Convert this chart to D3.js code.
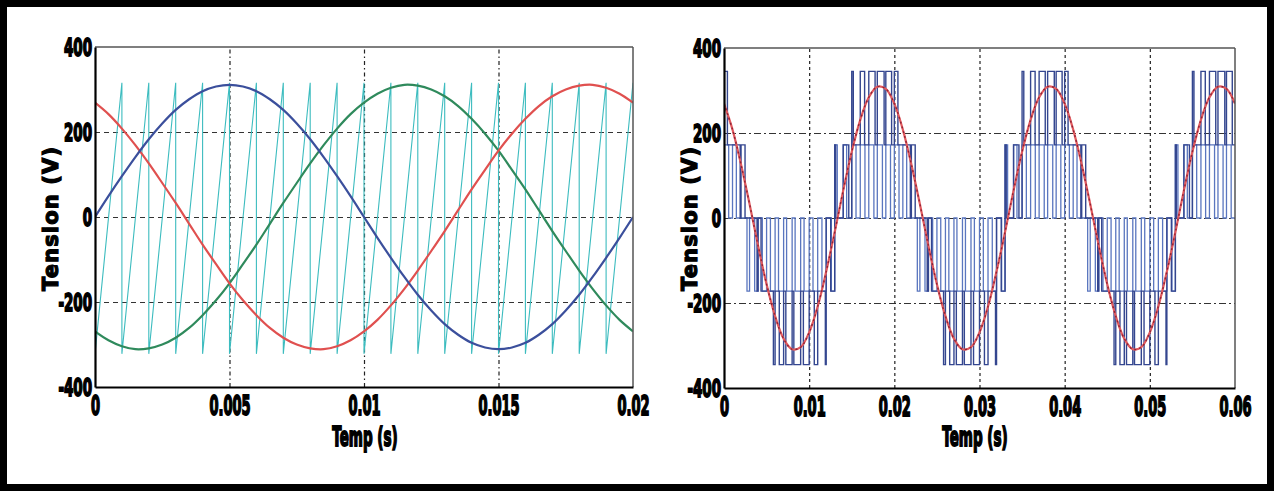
<!DOCTYPE html>
<html><head><meta charset="utf-8">
<script src="https://cdn.jsdelivr.net/npm/d3@7/dist/d3.min.js"></script>
<style>
html,body{margin:0;padding:0;background:#fff;}
svg{display:block;}
</style></head><body>
<svg id="chart" width="1274" height="492"></svg>
<script>
// ===================== DATA =====================
// Left panel: three-phase references (V) sampled every 0.5 ms
const leftTimeMs = [0,0.5,1,1.5,2,2.5,3,3.5,4,4.5,5,5.5,6,6.5,7,7.5,8,8.5,9,9.5,10,10.5,11,11.5,12,12.5,13,13.5,14,14.5,15,15.5,16,16.5,17,17.5,18,18.5,19,19.5,20];
const phaseBlue  = [0,49,96,141,183,220,252,277,296,307,311,307,296,277,252,220,183,141,96,49,0,-49,-96,-141,-183,-220,-252,-277,-296,-307,-311,-307,-296,-277,-252,-220,-183,-141,-96,-49,0];
const phaseRed   = [269,242,208,169,126,80,33,-16,-65,-111,-156,-196,-231,-261,-284,-300,-309,-311,-304,-290,-269,-242,-208,-169,-126,-80,-33,16,65,111,156,196,231,261,284,300,309,311,304,290,269];
const phaseGreen = [-269,-290,-304,-311,-309,-300,-284,-261,-231,-196,-156,-111,-65,-16,33,80,126,169,208,242,269,290,304,311,309,300,284,261,231,196,156,111,65,16,-33,-80,-126,-169,-208,-242,-269];
// Left panel: sawtooth carrier (1 kHz)
const carrierTimeMs = [0,1,1,2,2,3,3,4,4,5,5,6,6,7,7,8,8,9,9,10,10,11,11,12,12,13,13,14,14,15,15,16,16,17,17,18,18,19,19,20];
const carrierValue  = [-322,316,-322,316,-322,316,-322,316,-322,316,-322,316,-322,316,-322,316,-322,316,-322,316,-322,316,-322,316,-322,316,-322,316,-322,316,-322,316,-322,316,-322,316,-322,316,-322,316];
const leftXTicks = [0,0.005,0.01,0.015,0.02];
const leftXTickLabels = ["0","0.005","0.01","0.015","0.02"];
const yTicks = [400,200,0,-200,-400];
const yTickLabels = ["400","200","0","-200","-400"];
const yGrid = [200,0,-200];

// Right panel: reference (V) sampled every 1 ms
const refTimeMs = [0,1,2,3,4,5,6,7,8,9,10,11,12,13,14,15,16,17,18,19,20,21,22,23,24,25,26,27,28,29,30,31,32,33,34,35,36,37,38,39,40,41,42,43,44,45,46,47,48,49,50,51,52,53,54,55,56,57,58,59,60];
const refValue = [269,208,126,33,-65,-156,-231,-284,-309,-304,-269,-208,-126,-33,65,156,231,284,309,304,
                  269,208,126,33,-65,-156,-231,-284,-309,-304,-269,-208,-126,-33,65,156,231,284,309,304,
                  269,208,126,33,-65,-156,-231,-284,-309,-304,-269,-208,-126,-33,65,156,231,284,309,304,269];
// Right panel: multilevel PWM, one entry per 1 ms switching period (dark trace)
const pwmALow  = [172,0,0,-172,-172,-345,-345,-345,-345,-345,-345,-345,-172,0,0,172,172,172,172,172,
                  172,0,0,-172,-172,-345,-345,-345,-345,-345,-345,-345,-172,0,0,172,172,172,172,172,
                  172,0,0,-172,-172,-345,-345,-345,-345,-345,-345,-345,-172,0,0,172,172,172,172,172];
const pwmAHigh = [345,172,172,0,0,-172,-172,-172,-172,-172,-172,-172,0,172,172,345,345,345,345,345,
                  345,172,172,0,0,-172,-172,-172,-172,-172,-172,-172,0,172,172,345,345,345,345,345,
                  345,172,172,0,0,-172,-172,-172,-172,-172,-172,-172,0,172,172,345,345,345,345,345];
const pwmADuty = [0.40,0.90,0.47,0.88,0.35,0.80,0.49,0.26,0.20,0.32,0.60,0.90,0.53,0.12,0.65,0.18,0.51,0.74,0.80,0.68,
                  0.42,0.88,0.45,0.86,0.37,0.78,0.50,0.28,0.22,0.30,0.58,0.88,0.55,0.14,0.63,0.20,0.53,0.72,0.78,0.70,
                  0.40,0.90,0.47,0.88,0.35,0.80,0.49,0.26,0.20,0.32,0.60,0.90,0.53,0.12,0.65,0.18,0.51,0.74,0.80,0.68];
// Right panel: cell PWM (light trace)
const pwmBLow  = [0,0,-172,-172,-172,-172,-172,-172,-172,-172,-172,-172,-172,0,0,0,0,0,0,0,
                  0,0,-172,-172,-172,-172,-172,-172,-172,-172,-172,-172,-172,0,0,0,0,0,0,0,
                  0,0,-172,-172,-172,-172,-172,-172,-172,-172,-172,-172,-172,0,0,0,0,0,0,0];
const pwmBHigh = [172,172,0,0,0,0,0,0,0,0,0,0,0,172,172,172,172,172,172,172,
                  172,172,0,0,0,0,0,0,0,0,0,0,0,172,172,172,172,172,172,172,
                  172,172,0,0,0,0,0,0,0,0,0,0,0,172,172,172,172,172,172,172];
const pwmBDuty = [0.55,0.45,0.70,0.60,0.50,0.45,0.40,0.35,0.35,0.40,0.45,0.50,0.60,0.30,0.40,0.50,0.55,0.60,0.60,0.55,
                  0.55,0.45,0.70,0.60,0.50,0.45,0.40,0.35,0.35,0.40,0.45,0.50,0.60,0.30,0.40,0.50,0.55,0.60,0.60,0.55,
                  0.55,0.45,0.70,0.60,0.50,0.45,0.40,0.35,0.35,0.40,0.45,0.50,0.60,0.30,0.40,0.50,0.55,0.60,0.60,0.55];
const rightXTicks = [0,0.01,0.02,0.03,0.04,0.05,0.06];
const rightXTickLabels = ["0","0.01","0.02","0.03","0.04","0.05","0.06"];
const xTitle = "Temp (s)";
const yTitle = "Tension (V)";

// ===================== DRAW =====================
const svg = d3.select("#chart");
svg.append("rect").attr("x",0).attr("y",0).attr("width",1274).attr("height",492).attr("fill","#fff");
svg.append("rect").attr("x",3.5).attr("y",3.5).attr("width",1267).attr("height",484)
   .attr("fill","none").attr("stroke","#000").attr("stroke-width",7);

const FONT = "'DejaVu Sans',sans-serif";
function boldText(sel,size,sw){
  sel.attr("font-family",FONT).attr("font-weight","bold").attr("font-size",size)
     .attr("fill","#000").attr("stroke","#000").attr("stroke-width",sw);
}

function panel(o){
  const g = svg.append("g");
  const x = d3.scaleLinear().domain(o.xDomain).range([o.x0,o.x1]);
  const y = d3.scaleLinear().domain([-400,400]).range([o.y1,o.y0]);
  g.append("rect").attr("x",o.x0).attr("y",o.y0).attr("width",o.x1-o.x0).attr("height",o.y1-o.y0).attr("fill","#fff");
  const clipId = "clip"+o.id;
  g.append("clipPath").attr("id",clipId).append("rect")
    .attr("x",o.x0).attr("y",o.y0).attr("width",o.x1-o.x0).attr("height",o.y1-o.y0);

  // grid
  g.append("g").attr("transform",`translate(${o.x0},0)`)
    .call(d3.axisLeft(y).tickValues(yGrid).tickSize(-(o.x1-o.x0)).tickFormat(""))
    .call(a=>a.select(".domain").remove())
    .selectAll("line").attr("stroke","#333").attr("stroke-width",1.2).attr("stroke-dasharray",o.hDash);
  g.append("g").attr("transform",`translate(0,${o.y1})`)
    .call(d3.axisBottom(x).tickValues(o.xTicks.slice(1,-1)).tickSize(-(o.y1-o.y0)).tickFormat(""))
    .call(a=>a.select(".domain").remove())
    .selectAll("line").attr("stroke","#222").attr("stroke-width",1.2).attr("stroke-dasharray",o.vDash);

  const plot = g.append("g").attr("clip-path",`url(#${clipId})`);
  o.draw(plot,x,y);

  // box
  g.append("line").attr("x1",o.x0).attr("x2",o.x1).attr("y1",o.y0).attr("y2",o.y0).attr("stroke","#555").attr("stroke-width",1.5);
  g.append("line").attr("x1",o.x1).attr("x2",o.x1).attr("y1",o.y0).attr("y2",o.y1).attr("stroke","#555").attr("stroke-width",1.5);

  // axes
  const ya = g.append("g").attr("transform",`translate(${o.x0},0)`)
    .call(d3.axisLeft(y).tickValues(yTicks).tickSize(0).tickFormat((d,i)=>yTickLabels[i]));
  ya.select(".domain").attr("stroke","#000").attr("stroke-width",2.2);
  ya.selectAll("text").attr("x",o.yLabelEnd/0.56).attr("dy","0.36em").call(boldText,24,1.8)
    .attr("transform","scale(0.56,1)");

  const xa = g.append("g").attr("transform",`translate(0,${o.y1})`)
    .call(d3.axisBottom(x).tickValues(o.xTicks).tickSize(0).tickFormat((d,i)=>o.xLabels[i]));
  xa.select(".domain").attr("stroke","#000").attr("stroke-width",2.2);
  xa.selectAll("text").attr("y",28.5).attr("dy",null).call(boldText,26,1.9)
    .attr("transform","scale(0.5,1)");

  // titles
  g.append("text").attr("transform",`translate(${o.xTitleX},446) scale(0.52,1)`).attr("text-anchor","middle").text(xTitle)
    .call(boldText,26,1.9);
  g.append("text").attr("transform",`translate(${o.yTitleX},219) rotate(-90)`).attr("text-anchor","middle").text(yTitle)
    .call(boldText,21,1.2).attr("textLength",144).attr("lengthAdjust","spacing");
}

// Left panel
panel({
  id:"L", x0:95, x1:633, y0:47, y1:387, xDomain:[0,0.02],
  xTicks:leftXTicks, xLabels:leftXTickLabels, hDash:"5,4", vDash:"4,3,1.5,3",
  xTitleX:365, yTitleX:58, yLabelEnd:-3,
  draw:(p,x,y)=>{
    const line = d3.line().x(d=>x(d[0]/1000)).y(d=>y(d[1]));
    p.append("path").datum(carrierTimeMs.map((t,i)=>[t,carrierValue[i]]))
      .attr("d",line).attr("fill","none").attr("stroke","#3cbcbf").attr("stroke-width",1.1);
    const smooth = d3.line().x(d=>x(d[0]/1000)).y(d=>y(d[1])).curve(d3.curveCatmullRom);
    [[phaseGreen,"#2f8a5c"],[phaseRed,"#e0504f"],[phaseBlue,"#3b4f9c"]].forEach(([vals,col])=>{
      p.append("path").datum(leftTimeMs.map((t,i)=>[t,vals[i]]))
        .attr("d",smooth).attr("fill","none").attr("stroke",col).attr("stroke-width",2.2);
    });
  }
});

// Right panel
function pwmPoints(low,high,duty){
  const pts=[];
  for(let k=0;k<low.length;k++){
    pts.push([k,high[k]],[k+duty[k],high[k]],[k+duty[k],low[k]],[k+1,low[k]]);
  }
  return pts;
}
panel({
  id:"R", x0:724, x1:1235, y0:48, y1:388, xDomain:[0,0.06],
  xTicks:rightXTicks, xLabels:rightXTickLabels, hDash:"7,3,2,3", vDash:"3,3",
  xTitleX:975, yTitleX:697, yLabelEnd:-3,
  draw:(p,x,y)=>{
    const line = d3.line().x(d=>x(d[0]/1000)).y(d=>y(d[1]));
    p.append("path").datum(pwmPoints(pwmBLow,pwmBHigh,pwmBDuty))
      .attr("d",line).attr("fill","none").attr("stroke","#5a76bf").attr("stroke-width",1.3);
    p.append("path").datum(pwmPoints(pwmALow,pwmAHigh,pwmADuty))
      .attr("d",line).attr("fill","none").attr("stroke","#34468f").attr("stroke-width",1.4);
    const smooth = d3.line().x(d=>x(d[0]/1000)).y(d=>y(d[1])).curve(d3.curveCatmullRom);
    const refData = refTimeMs.map((t,i)=>[t,refValue[i]]);
    p.append("path").datum(refData).attr("d",smooth).attr("fill","none").attr("stroke","#e25a5e").attr("stroke-width",2.2);
    p.append("path").datum(refData).attr("d",smooth).attr("fill","none").attr("stroke","#8e2436")
      .attr("stroke-width",1.4).attr("stroke-dasharray","2,3");
  }
});
</script>
</body></html>
